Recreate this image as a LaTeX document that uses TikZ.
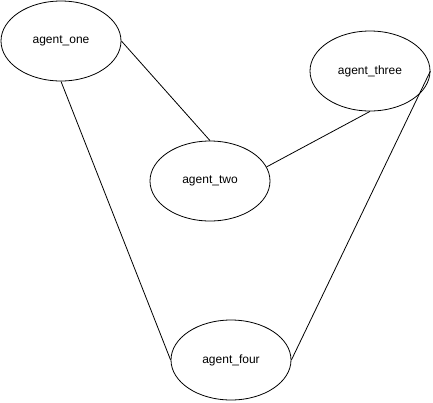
\documentclass[tikz,border=0pt]{standalone}
\usepackage{fontspec}
\setmainfont{Liberation Sans}
\usetikzlibrary{shapes.geometric}
\begin{document}
\begin{tikzpicture}[x=1pt, y=-1pt,
    agent/.style={draw=black, line width=0.8pt, ellipse, minimum width=120pt, minimum height=80pt, inner sep=0pt, font=\fontsize{12}{14}\selectfont},
    link/.style={draw=black, line width=0.8pt},
  ]

\useasboundingbox (0,0) rectangle (433,402);

%agents
\node[agent] (one) at (61,41) {agent\_one};
\node[agent] (two) at (210,181) {agent\_two};
\node[agent] (three) at (370,71) {agent\_three};
\node[agent] (four) at (231,360) {agent\_four};

%links
\path[link] (one.east) -- (two.north);
\path[link] (three.south) -- (two.14);
\path[link] (one.south) -- (four.west);
\path[link] (three.east) -- (four.east);

\end{tikzpicture}
\end{document}
